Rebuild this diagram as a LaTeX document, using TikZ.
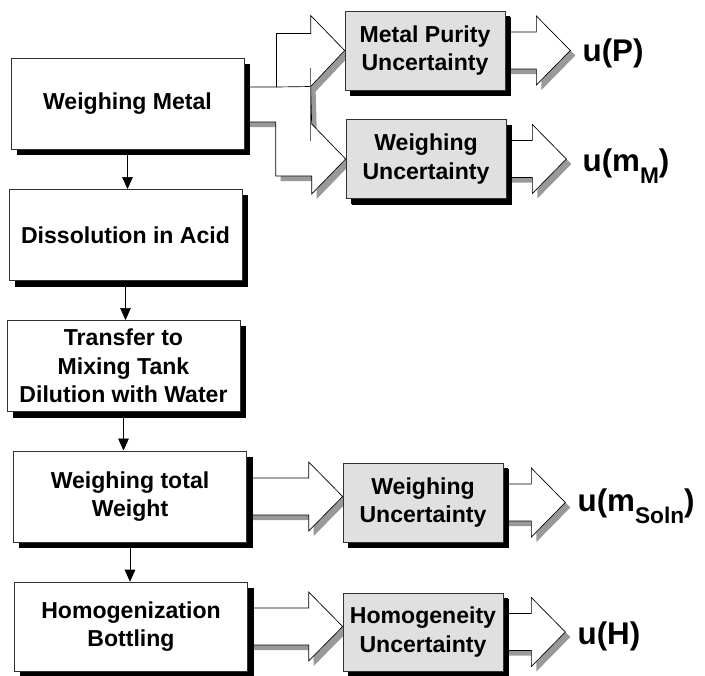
\documentclass[tikz,border=0pt]{standalone}
\usepackage{fontspec}
\setmainfont{Liberation Sans}
\usetikzlibrary{arrows.meta, calc, shadows, backgrounds}

\newcommand{\lowsub}[1]{\raisebox{-9pt}{\fontsize{17}{17}\selectfont #1}}
% fat block arrow from the east side of a box to a tip
\newcommand{\fatarrow}[2]{%
  \draw[bigarr] ($(#1.east)+(0,-18.5)$) -- ($(#2)+(-34,-18.5)$) -- ($(#2)+(-34,-34.5)$)
    -- (#2) -- ($(#2)+(-34,34.5)$) -- ($(#2)+(-34,18.5)$) -- ($(#1.east)+(0,18.5)$) -- cycle;}

\begin{document}
\begin{tikzpicture}[
    x=0.75pt, y=0.75pt,
    font=\fontsize{17.3}{21.5}\selectfont\bfseries,
    box/.style={
        draw=black!80,
        line width=0.5pt,
        fill=white,
        align=center,
        inner sep=1pt,
        minimum width=175pt,
        minimum height=68.5pt,
        general shadow={fill=black, shadow xshift=4.5pt, shadow yshift=-4.5pt}
    },
    ubox/.style={
        box,
        fill=black!12,
        minimum width=120pt,
        minimum height=59.5pt,
        general shadow={fill=black, shadow xshift=4pt, shadow yshift=-4pt}
    },
    arrow/.style={
        -{Triangle[length=9pt,width=8pt]},
        line width=0.5pt
    },
    bigarr/.style={
        draw=black,
        line width=0.5pt,
        fill=white,
        preaction={draw=none, fill=black!40,
            transform canvas={xshift=3.75pt, yshift=-3.75pt}}
    },
    lbl/.style={
        font=\fontsize{23.5}{23.5}\selectfont\bfseries,
        inner sep=0pt
    }
]
\useasboundingbox (0,0) rectangle (705,-675);

% process steps
\node[box] (wm) at (127.5,-103.5) {Weighing Metal};
\node[box] (da) at (125.5,-235) {Dissolution in Acid};
\node[box] (tr) at (123.5,-366) {Transfer to\\Mixing Tank\\Dilution with Water};
\node[box] (wt) at (130,-496.5) {Weighing total\\Weight};
\node[box, minimum height=66.75pt] (hb) at (131,-626.5) {Homogenization\\Bottling};

% uncertainty sources
\node[ubox] (mp) at (425,-50.5) {Metal Purity\\Uncertainty};
\node[ubox] (wu1) at (426,-159) {Weighing\\Uncertainty};
\node[ubox] (wu2) at (423,-502.5) {Weighing\\Uncertainty};
\node[ubox, minimum height=58.5pt] (hu) at (423,-632) {Homogeneity\\Uncertainty};

\draw[arrow] (wm.south) -- (wm.south |- da.north);
\draw[arrow] (da.south) -- (da.south |- tr.north);
\draw[arrow] (tr.south) -- (tr.south |- wt.north);
\draw[arrow] (wt.south) -- (wt.south |- hb.north);

\coordinate (tipW) at (wu2.west |- wt.east);
\coordinate (tipH) at (hu.west |- hb.east);
\coordinate (tipP) at ($(mp.east)+(65,0)$);
\coordinate (tipM) at ($(wu1.east)+(60,0)$);
\coordinate (tipS) at ($(wu2.east)+(62,0)$);
\coordinate (tipU) at ($(hu.east)+(62,0)$);

\begin{scope}[on background layer]
% forked arrow out of the metal weighing
\draw[bigarr] ($(wm.east)+(0,-18.5)$) -| ($(wu1.west)+(-70,-17)$)
    -- ($(wu1.west)+(-34,-17)$) -- ($(wu1.west)+(-34,-35)$) -- (wu1.west)
    -- ($(wu1.west)+(-34,35)$) -- ($(mp.west)+(-34,-36)$) -- (mp.west)
    -- ($(mp.west)+(-34,35)$) -- ($(mp.west)+(-34,17)$)
    -| ($(wm.east)+(32,16.5)$) -- ($(wm.east)+(0,16.5)$) -- cycle;
\draw[line width=0.5pt] ($(wm.east)+(32,16.5)$) -- ($(mp.west)+(-34,-36)$);
\draw[black!60, line width=1pt] ($(mp.west)+(-34,-17.5)$) -- ($(wu1.west)+(-35,18)$);

\fatarrow{wt}{tipW}
\fatarrow{hb}{tipH}
\fatarrow{mp}{tipP}
\fatarrow{wu1}{tipM}
\fatarrow{wu2}{tipS}
\fatarrow{hu}{tipU}
\end{scope}

% results
\node[lbl, anchor=base west] (uP) at ($(tipP)+(12,-10.5)$) {u(P)};
\node[lbl, anchor=base west] (uM) at ($(tipM)+(16,-12)$) {u(m\lowsub{M})};
\node[lbl, anchor=base west] (uS) at ($(tipS)+(12,-9)$) {u(m\lowsub{Soln})};
\node[lbl, anchor=base west] (uH) at ($(tipU)+(12,-12)$) {u(H)};

\end{tikzpicture}
\end{document}
